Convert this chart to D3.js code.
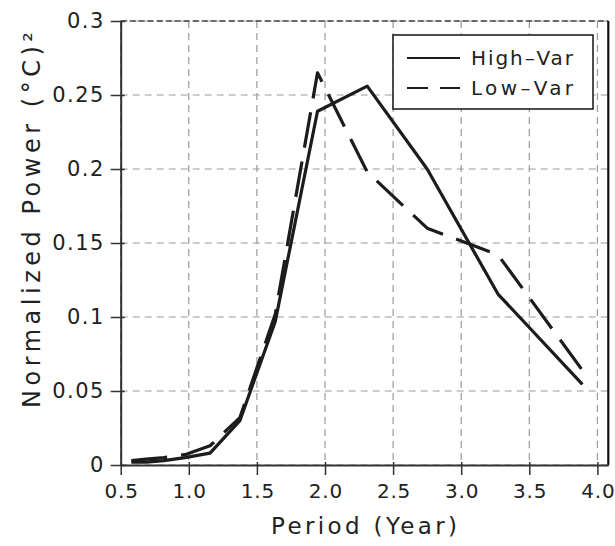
<!DOCTYPE html>
<html>
<head>
<meta charset="utf-8">
<script src="https://cdn.jsdelivr.net/npm/d3@7"></script>
<style>
  html, body { margin: 0; padding: 0; background: #fff; }
  svg text { font-family: "DejaVu Sans", "Liberation Sans", sans-serif; fill: #222; }
</style>
</head>
<body>
<svg id="chart" width="615" height="546"></svg>
<script>
// Periods (years) of the spectral points
const periods = [0.578, 0.687, 0.817, 0.972, 1.156, 1.375, 1.635, 1.945, 2.31, 2.75, 3.27, 3.89];
// Normalized power, (°C)^2
const highVar = [0.002, 0.002, 0.003, 0.005, 0.008, 0.030, 0.097, 0.239, 0.256, 0.200, 0.1155, 0.0545];
const lowVar  = [0.003, 0.004, 0.005, 0.007, 0.013, 0.032, 0.102, 0.265, 0.198, 0.160, 0.142, 0.064];
const xTicks = [0.5, 1.0, 1.5, 2.0, 2.5, 3.0, 3.5, 4.0];
const xTickLabels = ["0.5", "1.0", "1.5", "2.0", "2.5", "3.0", "3.5", "4.0"];
const yTicks = [0, 0.05, 0.1, 0.15, 0.2, 0.25, 0.3];
const yTickLabels = ["0", "0.05", "0.1", "0.15", "0.2", "0.25", "0.3"];
const seriesNames = ["High–Var", "Low–Var"];

const svg = d3.select("#chart");
const L = 120.7, R = 608.3, T = 21, B = 465;
const x = d3.scaleLinear().domain([0.5, 4.08]).range([L, R]);
const y = d3.scaleLinear().domain([0, 0.3]).range([B, T]);

// grid
const grid = svg.append("g");
grid.selectAll("line.gx").data(xTicks).join("line")
  .attr("x1", d => x(d)).attr("x2", d => x(d)).attr("y1", T).attr("y2", B)
  .attr("stroke", "#9a9a9a").attr("stroke-width", 1.2).attr("stroke-dasharray", "7,5");
grid.selectAll("line.gy").data(yTicks).join("line")
  .attr("x1", L).attr("x2", R).attr("y1", d => y(d)).attr("y2", d => y(d))
  .attr("stroke", "#9a9a9a").attr("stroke-width", 1.2).attr("stroke-dasharray", "7,5");

// top border (dashed dark) and right border
svg.append("line").attr("x1", L).attr("x2", R).attr("y1", T).attr("y2", T)
  .attr("stroke", "#444").attr("stroke-width", 1.3).attr("stroke-dasharray", "6,3");
svg.append("line").attr("x1", R).attr("x2", R).attr("y1", T).attr("y2", B)
  .attr("stroke", "#111").attr("stroke-width", 2.2);

// axes
const xAxis = d3.axisBottom(x).tickValues(xTicks).tickFormat((d, i) => xTickLabels[i])
  .tickSizeInner(10).tickSizeOuter(0).tickPadding(9);
const gx = svg.append("g").attr("transform", `translate(0,${B})`).call(xAxis);
gx.select(".domain").attr("stroke", "#333").attr("stroke-width", 2);
gx.selectAll(".tick line").attr("stroke", "#333").attr("stroke-width", 1.5).attr("y1", -3);
gx.selectAll(".tick text").attr("font-size", 20).attr("letter-spacing", 0.8).attr("dx", 0.4)
  .attr("fill", "#2a2a2a").attr("font-family", "DejaVu Sans");

const yAxis = d3.axisLeft(y).tickValues(yTicks).tickFormat((d, i) => yTickLabels[i])
  .tickSizeInner(10).tickSizeOuter(0).tickPadding(6);
const gy = svg.append("g").attr("transform", `translate(${L},0)`).call(yAxis);
gy.select(".domain").attr("stroke", "#333").attr("stroke-width", 2);
gy.selectAll(".tick line").attr("stroke", "#333").attr("stroke-width", 1.5).attr("x1", 4);
gy.selectAll(".tick text").attr("font-size", 21).attr("letter-spacing", 1.4).attr("fill", "#2a2a2a")
  .attr("font-family", "DejaVu Sans");

// lines
const line = d3.line().x(d => x(d[0])).y(d => y(d[1]));
const hv = periods.map((p, i) => [p, highVar[i]]);
const lv = periods.map((p, i) => [p, lowVar[i]]);
svg.append("path").datum(lv).attr("d", line).attr("fill", "none")
  .attr("stroke", "#1c1c1c").attr("stroke-width", 3.2).attr("stroke-dasharray", "36,14")
  .attr("stroke-linejoin", "round");
svg.append("path").datum(hv).attr("d", line).attr("fill", "none")
  .attr("stroke", "#1c1c1c").attr("stroke-width", 3.2).attr("stroke-linejoin", "round");

// legend
const lg = svg.append("g");
lg.append("rect").attr("x", 393).attr("y", 35).attr("width", 200).attr("height", 74)
  .attr("fill", "#fff").attr("stroke", "#222").attr("stroke-width", 1.6);
const legY = [58, 88];
const dashes = [null, "21,12"];
seriesNames.forEach((n, i) => {
  const ln = lg.append("line").attr("x1", 407).attr("x2", 460).attr("y1", legY[i]).attr("y2", legY[i])
    .attr("stroke", "#1c1c1c").attr("stroke-width", 2);
  if (dashes[i]) ln.attr("stroke-dasharray", dashes[i]);
  lg.append("text").attr("x", 471).attr("y", legY[i] + 7).attr("font-size", 20)
    .attr("textLength", 102).attr("lengthAdjust", "spacing").text(n);
});

// axis titles
svg.append("text").attr("x", 364).attr("y", 534).attr("text-anchor", "middle")
  .attr("font-size", 23).attr("textLength", 186).attr("lengthAdjust", "spacing")
  .text("Period (Year)");
svg.append("text").attr("transform", "translate(40,220) rotate(-90)").attr("text-anchor", "middle")
  .attr("font-size", 24).attr("textLength", 376).attr("lengthAdjust", "spacing")
  .text("Normalized Power (°C)²");
</script>
</body>
</html>
